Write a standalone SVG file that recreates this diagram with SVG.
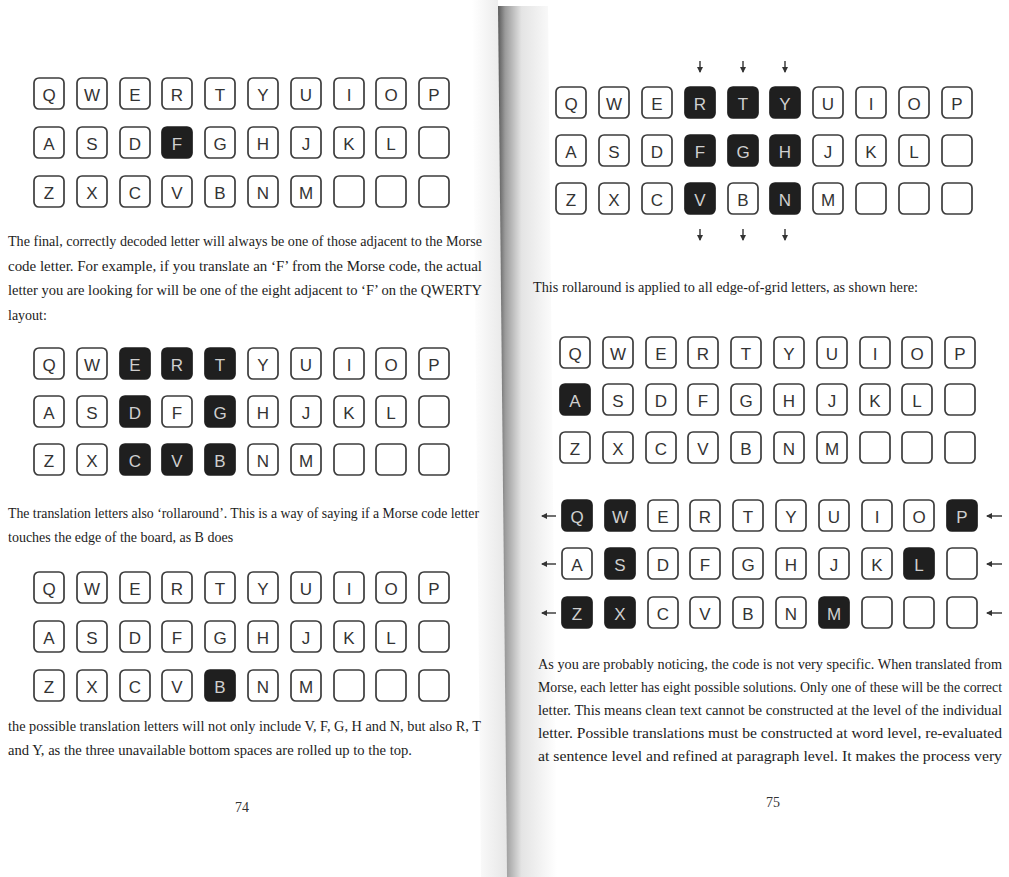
<svg xmlns="http://www.w3.org/2000/svg" width="1009" height="877" viewBox="0 0 1009 877">
<style>
.k rect{fill:#fff;stroke:#3c3c3c;stroke-width:1.7}
.k text{font-family:"Liberation Sans",Arial,sans-serif;font-size:17px;fill:#333;text-anchor:middle}
.d rect{fill:#1f1f1f;stroke:#1f1f1f}
.d text{fill:#cfcfcf}
.t{font-family:"Liberation Serif","Times New Roman",serif;font-size:14px;fill:#1c1c1c}
.pn{font-family:"Liberation Serif","Times New Roman",serif;font-size:14px;fill:#333;text-anchor:middle}
.ar{stroke:#333;stroke-width:1.4;fill:none}
</style>
<defs>
<marker id="ah" markerUnits="userSpaceOnUse" markerWidth="6" markerHeight="6" refX="5" refY="3" orient="auto"><path d="M0,0 L6,3 L0,6 z" fill="#333"/></marker>
<linearGradient id="gr" x1="0" y1="0" x2="1" y2="0"><stop offset="0" stop-color="#5a5a5a"/><stop offset="0.12" stop-color="#9a9a9a"/><stop offset="0.4" stop-color="#e4e4e4"/><stop offset="1" stop-color="#fff"/></linearGradient>
<linearGradient id="gl" x1="0" y1="0" x2="1" y2="0"><stop offset="0" stop-color="#fff"/><stop offset="1" stop-color="#e6e6e6"/></linearGradient>
</defs>
<rect width="1009" height="877" fill="#fff"/>
<g id="gutter">
<polygon points="472,0 498,0 507,877 481,877" fill="url(#gl)"/>
<polygon points="498,6 548,6 557,877 507,877" fill="url(#gr)"/>
</g>

<g id="grid-left-1">
<g id="L1-Q" class="k" transform="translate(34,78)"><rect width="30" height="31" rx="5"/><text x="15" y="23">Q</text></g>
<g id="L1-W" class="k" transform="translate(77,78)"><rect width="30" height="31" rx="5"/><text x="15" y="23">W</text></g>
<g id="L1-E" class="k" transform="translate(120,78)"><rect width="30" height="31" rx="5"/><text x="15" y="23">E</text></g>
<g id="L1-R" class="k" transform="translate(162,78)"><rect width="30" height="31" rx="5"/><text x="15" y="23">R</text></g>
<g id="L1-T" class="k" transform="translate(205,78)"><rect width="30" height="31" rx="5"/><text x="15" y="23">T</text></g>
<g id="L1-Y" class="k" transform="translate(248,78)"><rect width="30" height="31" rx="5"/><text x="15" y="23">Y</text></g>
<g id="L1-U" class="k" transform="translate(291,78)"><rect width="30" height="31" rx="5"/><text x="15" y="23">U</text></g>
<g id="L1-I" class="k" transform="translate(334,78)"><rect width="30" height="31" rx="5"/><text x="15" y="23">I</text></g>
<g id="L1-O" class="k" transform="translate(376,78)"><rect width="30" height="31" rx="5"/><text x="15" y="23">O</text></g>
<g id="L1-P" class="k" transform="translate(419,78)"><rect width="30" height="31" rx="5"/><text x="15" y="23">P</text></g>
<g id="L1-A" class="k" transform="translate(34,127)"><rect width="30" height="31" rx="5"/><text x="15" y="23">A</text></g>
<g id="L1-S" class="k" transform="translate(77,127)"><rect width="30" height="31" rx="5"/><text x="15" y="23">S</text></g>
<g id="L1-D" class="k" transform="translate(120,127)"><rect width="30" height="31" rx="5"/><text x="15" y="23">D</text></g>
<g id="L1-F" class="k d" transform="translate(162,127)"><rect width="30" height="31" rx="5"/><text x="15" y="23">F</text></g>
<g id="L1-G" class="k" transform="translate(205,127)"><rect width="30" height="31" rx="5"/><text x="15" y="23">G</text></g>
<g id="L1-H" class="k" transform="translate(248,127)"><rect width="30" height="31" rx="5"/><text x="15" y="23">H</text></g>
<g id="L1-J" class="k" transform="translate(291,127)"><rect width="30" height="31" rx="5"/><text x="15" y="23">J</text></g>
<g id="L1-K" class="k" transform="translate(334,127)"><rect width="30" height="31" rx="5"/><text x="15" y="23">K</text></g>
<g id="L1-L" class="k" transform="translate(376,127)"><rect width="30" height="31" rx="5"/><text x="15" y="23">L</text></g>
<g id="L1-b1" class="k" transform="translate(419,127)"><rect width="30" height="31" rx="5"/></g>
<g id="L1-Z" class="k" transform="translate(34,176)"><rect width="30" height="31" rx="5"/><text x="15" y="23">Z</text></g>
<g id="L1-X" class="k" transform="translate(77,176)"><rect width="30" height="31" rx="5"/><text x="15" y="23">X</text></g>
<g id="L1-C" class="k" transform="translate(120,176)"><rect width="30" height="31" rx="5"/><text x="15" y="23">C</text></g>
<g id="L1-V" class="k" transform="translate(162,176)"><rect width="30" height="31" rx="5"/><text x="15" y="23">V</text></g>
<g id="L1-B" class="k" transform="translate(205,176)"><rect width="30" height="31" rx="5"/><text x="15" y="23">B</text></g>
<g id="L1-N" class="k" transform="translate(248,176)"><rect width="30" height="31" rx="5"/><text x="15" y="23">N</text></g>
<g id="L1-M" class="k" transform="translate(291,176)"><rect width="30" height="31" rx="5"/><text x="15" y="23">M</text></g>
<g id="L1-b2" class="k" transform="translate(334,176)"><rect width="30" height="31" rx="5"/></g>
<g id="L1-b3" class="k" transform="translate(376,176)"><rect width="30" height="31" rx="5"/></g>
<g id="L1-b4" class="k" transform="translate(419,176)"><rect width="30" height="31" rx="5"/></g>
</g>

<g id="grid-left-2">
<g id="L2-Q" class="k" transform="translate(34,348)"><rect width="30" height="31" rx="5"/><text x="15" y="23">Q</text></g>
<g id="L2-W" class="k" transform="translate(77,348)"><rect width="30" height="31" rx="5"/><text x="15" y="23">W</text></g>
<g id="L2-E" class="k d" transform="translate(120,348)"><rect width="30" height="31" rx="5"/><text x="15" y="23">E</text></g>
<g id="L2-R" class="k d" transform="translate(162,348)"><rect width="30" height="31" rx="5"/><text x="15" y="23">R</text></g>
<g id="L2-T" class="k d" transform="translate(205,348)"><rect width="30" height="31" rx="5"/><text x="15" y="23">T</text></g>
<g id="L2-Y" class="k" transform="translate(248,348)"><rect width="30" height="31" rx="5"/><text x="15" y="23">Y</text></g>
<g id="L2-U" class="k" transform="translate(291,348)"><rect width="30" height="31" rx="5"/><text x="15" y="23">U</text></g>
<g id="L2-I" class="k" transform="translate(334,348)"><rect width="30" height="31" rx="5"/><text x="15" y="23">I</text></g>
<g id="L2-O" class="k" transform="translate(376,348)"><rect width="30" height="31" rx="5"/><text x="15" y="23">O</text></g>
<g id="L2-P" class="k" transform="translate(419,348)"><rect width="30" height="31" rx="5"/><text x="15" y="23">P</text></g>
<g id="L2-A" class="k" transform="translate(34,396)"><rect width="30" height="31" rx="5"/><text x="15" y="23">A</text></g>
<g id="L2-S" class="k" transform="translate(77,396)"><rect width="30" height="31" rx="5"/><text x="15" y="23">S</text></g>
<g id="L2-D" class="k d" transform="translate(120,396)"><rect width="30" height="31" rx="5"/><text x="15" y="23">D</text></g>
<g id="L2-F" class="k" transform="translate(162,396)"><rect width="30" height="31" rx="5"/><text x="15" y="23">F</text></g>
<g id="L2-G" class="k d" transform="translate(205,396)"><rect width="30" height="31" rx="5"/><text x="15" y="23">G</text></g>
<g id="L2-H" class="k" transform="translate(248,396)"><rect width="30" height="31" rx="5"/><text x="15" y="23">H</text></g>
<g id="L2-J" class="k" transform="translate(291,396)"><rect width="30" height="31" rx="5"/><text x="15" y="23">J</text></g>
<g id="L2-K" class="k" transform="translate(334,396)"><rect width="30" height="31" rx="5"/><text x="15" y="23">K</text></g>
<g id="L2-L" class="k" transform="translate(376,396)"><rect width="30" height="31" rx="5"/><text x="15" y="23">L</text></g>
<g id="L2-b1" class="k" transform="translate(419,396)"><rect width="30" height="31" rx="5"/></g>
<g id="L2-Z" class="k" transform="translate(34,444)"><rect width="30" height="31" rx="5"/><text x="15" y="23">Z</text></g>
<g id="L2-X" class="k" transform="translate(77,444)"><rect width="30" height="31" rx="5"/><text x="15" y="23">X</text></g>
<g id="L2-C" class="k d" transform="translate(120,444)"><rect width="30" height="31" rx="5"/><text x="15" y="23">C</text></g>
<g id="L2-V" class="k d" transform="translate(162,444)"><rect width="30" height="31" rx="5"/><text x="15" y="23">V</text></g>
<g id="L2-B" class="k d" transform="translate(205,444)"><rect width="30" height="31" rx="5"/><text x="15" y="23">B</text></g>
<g id="L2-N" class="k" transform="translate(248,444)"><rect width="30" height="31" rx="5"/><text x="15" y="23">N</text></g>
<g id="L2-M" class="k" transform="translate(291,444)"><rect width="30" height="31" rx="5"/><text x="15" y="23">M</text></g>
<g id="L2-b2" class="k" transform="translate(334,444)"><rect width="30" height="31" rx="5"/></g>
<g id="L2-b3" class="k" transform="translate(376,444)"><rect width="30" height="31" rx="5"/></g>
<g id="L2-b4" class="k" transform="translate(419,444)"><rect width="30" height="31" rx="5"/></g>
</g>

<g id="grid-left-3">
<g id="L3-Q" class="k" transform="translate(34,572)"><rect width="30" height="31" rx="5"/><text x="15" y="23">Q</text></g>
<g id="L3-W" class="k" transform="translate(77,572)"><rect width="30" height="31" rx="5"/><text x="15" y="23">W</text></g>
<g id="L3-E" class="k" transform="translate(120,572)"><rect width="30" height="31" rx="5"/><text x="15" y="23">E</text></g>
<g id="L3-R" class="k" transform="translate(162,572)"><rect width="30" height="31" rx="5"/><text x="15" y="23">R</text></g>
<g id="L3-T" class="k" transform="translate(205,572)"><rect width="30" height="31" rx="5"/><text x="15" y="23">T</text></g>
<g id="L3-Y" class="k" transform="translate(248,572)"><rect width="30" height="31" rx="5"/><text x="15" y="23">Y</text></g>
<g id="L3-U" class="k" transform="translate(291,572)"><rect width="30" height="31" rx="5"/><text x="15" y="23">U</text></g>
<g id="L3-I" class="k" transform="translate(334,572)"><rect width="30" height="31" rx="5"/><text x="15" y="23">I</text></g>
<g id="L3-O" class="k" transform="translate(376,572)"><rect width="30" height="31" rx="5"/><text x="15" y="23">O</text></g>
<g id="L3-P" class="k" transform="translate(419,572)"><rect width="30" height="31" rx="5"/><text x="15" y="23">P</text></g>
<g id="L3-A" class="k" transform="translate(34,621)"><rect width="30" height="31" rx="5"/><text x="15" y="23">A</text></g>
<g id="L3-S" class="k" transform="translate(77,621)"><rect width="30" height="31" rx="5"/><text x="15" y="23">S</text></g>
<g id="L3-D" class="k" transform="translate(120,621)"><rect width="30" height="31" rx="5"/><text x="15" y="23">D</text></g>
<g id="L3-F" class="k" transform="translate(162,621)"><rect width="30" height="31" rx="5"/><text x="15" y="23">F</text></g>
<g id="L3-G" class="k" transform="translate(205,621)"><rect width="30" height="31" rx="5"/><text x="15" y="23">G</text></g>
<g id="L3-H" class="k" transform="translate(248,621)"><rect width="30" height="31" rx="5"/><text x="15" y="23">H</text></g>
<g id="L3-J" class="k" transform="translate(291,621)"><rect width="30" height="31" rx="5"/><text x="15" y="23">J</text></g>
<g id="L3-K" class="k" transform="translate(334,621)"><rect width="30" height="31" rx="5"/><text x="15" y="23">K</text></g>
<g id="L3-L" class="k" transform="translate(376,621)"><rect width="30" height="31" rx="5"/><text x="15" y="23">L</text></g>
<g id="L3-b1" class="k" transform="translate(419,621)"><rect width="30" height="31" rx="5"/></g>
<g id="L3-Z" class="k" transform="translate(34,670)"><rect width="30" height="31" rx="5"/><text x="15" y="23">Z</text></g>
<g id="L3-X" class="k" transform="translate(77,670)"><rect width="30" height="31" rx="5"/><text x="15" y="23">X</text></g>
<g id="L3-C" class="k" transform="translate(120,670)"><rect width="30" height="31" rx="5"/><text x="15" y="23">C</text></g>
<g id="L3-V" class="k" transform="translate(162,670)"><rect width="30" height="31" rx="5"/><text x="15" y="23">V</text></g>
<g id="L3-B" class="k d" transform="translate(205,670)"><rect width="30" height="31" rx="5"/><text x="15" y="23">B</text></g>
<g id="L3-N" class="k" transform="translate(248,670)"><rect width="30" height="31" rx="5"/><text x="15" y="23">N</text></g>
<g id="L3-M" class="k" transform="translate(291,670)"><rect width="30" height="31" rx="5"/><text x="15" y="23">M</text></g>
<g id="L3-b2" class="k" transform="translate(334,670)"><rect width="30" height="31" rx="5"/></g>
<g id="L3-b3" class="k" transform="translate(376,670)"><rect width="30" height="31" rx="5"/></g>
<g id="L3-b4" class="k" transform="translate(419,670)"><rect width="30" height="31" rx="5"/></g>
</g>

<g id="grid-right-1">
<g id="R1-Q" class="k" transform="translate(556,87)"><rect width="30" height="31" rx="5"/><text x="15" y="23">Q</text></g>
<g id="R1-W" class="k" transform="translate(599,87)"><rect width="30" height="31" rx="5"/><text x="15" y="23">W</text></g>
<g id="R1-E" class="k" transform="translate(642,87)"><rect width="30" height="31" rx="5"/><text x="15" y="23">E</text></g>
<g id="R1-R" class="k d" transform="translate(685,87)"><rect width="30" height="31" rx="5"/><text x="15" y="23">R</text></g>
<g id="R1-T" class="k d" transform="translate(728,87)"><rect width="30" height="31" rx="5"/><text x="15" y="23">T</text></g>
<g id="R1-Y" class="k d" transform="translate(770,87)"><rect width="30" height="31" rx="5"/><text x="15" y="23">Y</text></g>
<g id="R1-U" class="k" transform="translate(813,87)"><rect width="30" height="31" rx="5"/><text x="15" y="23">U</text></g>
<g id="R1-I" class="k" transform="translate(856,87)"><rect width="30" height="31" rx="5"/><text x="15" y="23">I</text></g>
<g id="R1-O" class="k" transform="translate(899,87)"><rect width="30" height="31" rx="5"/><text x="15" y="23">O</text></g>
<g id="R1-P" class="k" transform="translate(942,87)"><rect width="30" height="31" rx="5"/><text x="15" y="23">P</text></g>
<g id="R1-A" class="k" transform="translate(556,135)"><rect width="30" height="31" rx="5"/><text x="15" y="23">A</text></g>
<g id="R1-S" class="k" transform="translate(599,135)"><rect width="30" height="31" rx="5"/><text x="15" y="23">S</text></g>
<g id="R1-D" class="k" transform="translate(642,135)"><rect width="30" height="31" rx="5"/><text x="15" y="23">D</text></g>
<g id="R1-F" class="k d" transform="translate(685,135)"><rect width="30" height="31" rx="5"/><text x="15" y="23">F</text></g>
<g id="R1-G" class="k d" transform="translate(728,135)"><rect width="30" height="31" rx="5"/><text x="15" y="23">G</text></g>
<g id="R1-H" class="k d" transform="translate(770,135)"><rect width="30" height="31" rx="5"/><text x="15" y="23">H</text></g>
<g id="R1-J" class="k" transform="translate(813,135)"><rect width="30" height="31" rx="5"/><text x="15" y="23">J</text></g>
<g id="R1-K" class="k" transform="translate(856,135)"><rect width="30" height="31" rx="5"/><text x="15" y="23">K</text></g>
<g id="R1-L" class="k" transform="translate(899,135)"><rect width="30" height="31" rx="5"/><text x="15" y="23">L</text></g>
<g id="R1-b1" class="k" transform="translate(942,135)"><rect width="30" height="31" rx="5"/></g>
<g id="R1-Z" class="k" transform="translate(556,183)"><rect width="30" height="31" rx="5"/><text x="15" y="23">Z</text></g>
<g id="R1-X" class="k" transform="translate(599,183)"><rect width="30" height="31" rx="5"/><text x="15" y="23">X</text></g>
<g id="R1-C" class="k" transform="translate(642,183)"><rect width="30" height="31" rx="5"/><text x="15" y="23">C</text></g>
<g id="R1-V" class="k d" transform="translate(685,183)"><rect width="30" height="31" rx="5"/><text x="15" y="23">V</text></g>
<g id="R1-B" class="k" transform="translate(728,183)"><rect width="30" height="31" rx="5"/><text x="15" y="23">B</text></g>
<g id="R1-N" class="k d" transform="translate(770,183)"><rect width="30" height="31" rx="5"/><text x="15" y="23">N</text></g>
<g id="R1-M" class="k" transform="translate(813,183)"><rect width="30" height="31" rx="5"/><text x="15" y="23">M</text></g>
<g id="R1-b2" class="k" transform="translate(856,183)"><rect width="30" height="31" rx="5"/></g>
<g id="R1-b3" class="k" transform="translate(899,183)"><rect width="30" height="31" rx="5"/></g>
<g id="R1-b4" class="k" transform="translate(942,183)"><rect width="30" height="31" rx="5"/></g>
</g>

<g id="grid-right-2">
<g id="R2-Q" class="k" transform="translate(560,337)"><rect width="30" height="31" rx="5"/><text x="15" y="23">Q</text></g>
<g id="R2-W" class="k" transform="translate(603,337)"><rect width="30" height="31" rx="5"/><text x="15" y="23">W</text></g>
<g id="R2-E" class="k" transform="translate(646,337)"><rect width="30" height="31" rx="5"/><text x="15" y="23">E</text></g>
<g id="R2-R" class="k" transform="translate(688,337)"><rect width="30" height="31" rx="5"/><text x="15" y="23">R</text></g>
<g id="R2-T" class="k" transform="translate(731,337)"><rect width="30" height="31" rx="5"/><text x="15" y="23">T</text></g>
<g id="R2-Y" class="k" transform="translate(774,337)"><rect width="30" height="31" rx="5"/><text x="15" y="23">Y</text></g>
<g id="R2-U" class="k" transform="translate(817,337)"><rect width="30" height="31" rx="5"/><text x="15" y="23">U</text></g>
<g id="R2-I" class="k" transform="translate(860,337)"><rect width="30" height="31" rx="5"/><text x="15" y="23">I</text></g>
<g id="R2-O" class="k" transform="translate(902,337)"><rect width="30" height="31" rx="5"/><text x="15" y="23">O</text></g>
<g id="R2-P" class="k" transform="translate(945,337)"><rect width="30" height="31" rx="5"/><text x="15" y="23">P</text></g>
<g id="R2-A" class="k d" transform="translate(560,384)"><rect width="30" height="31" rx="5"/><text x="15" y="23">A</text></g>
<g id="R2-S" class="k" transform="translate(603,384)"><rect width="30" height="31" rx="5"/><text x="15" y="23">S</text></g>
<g id="R2-D" class="k" transform="translate(646,384)"><rect width="30" height="31" rx="5"/><text x="15" y="23">D</text></g>
<g id="R2-F" class="k" transform="translate(688,384)"><rect width="30" height="31" rx="5"/><text x="15" y="23">F</text></g>
<g id="R2-G" class="k" transform="translate(731,384)"><rect width="30" height="31" rx="5"/><text x="15" y="23">G</text></g>
<g id="R2-H" class="k" transform="translate(774,384)"><rect width="30" height="31" rx="5"/><text x="15" y="23">H</text></g>
<g id="R2-J" class="k" transform="translate(817,384)"><rect width="30" height="31" rx="5"/><text x="15" y="23">J</text></g>
<g id="R2-K" class="k" transform="translate(860,384)"><rect width="30" height="31" rx="5"/><text x="15" y="23">K</text></g>
<g id="R2-L" class="k" transform="translate(902,384)"><rect width="30" height="31" rx="5"/><text x="15" y="23">L</text></g>
<g id="R2-b1" class="k" transform="translate(945,384)"><rect width="30" height="31" rx="5"/></g>
<g id="R2-Z" class="k" transform="translate(560,432)"><rect width="30" height="31" rx="5"/><text x="15" y="23">Z</text></g>
<g id="R2-X" class="k" transform="translate(603,432)"><rect width="30" height="31" rx="5"/><text x="15" y="23">X</text></g>
<g id="R2-C" class="k" transform="translate(646,432)"><rect width="30" height="31" rx="5"/><text x="15" y="23">C</text></g>
<g id="R2-V" class="k" transform="translate(688,432)"><rect width="30" height="31" rx="5"/><text x="15" y="23">V</text></g>
<g id="R2-B" class="k" transform="translate(731,432)"><rect width="30" height="31" rx="5"/><text x="15" y="23">B</text></g>
<g id="R2-N" class="k" transform="translate(774,432)"><rect width="30" height="31" rx="5"/><text x="15" y="23">N</text></g>
<g id="R2-M" class="k" transform="translate(817,432)"><rect width="30" height="31" rx="5"/><text x="15" y="23">M</text></g>
<g id="R2-b2" class="k" transform="translate(860,432)"><rect width="30" height="31" rx="5"/></g>
<g id="R2-b3" class="k" transform="translate(902,432)"><rect width="30" height="31" rx="5"/></g>
<g id="R2-b4" class="k" transform="translate(945,432)"><rect width="30" height="31" rx="5"/></g>
</g>

<g id="grid-right-3">
<g id="R3-Q" class="k d" transform="translate(562,500)"><rect width="30" height="31" rx="5"/><text x="15" y="23">Q</text></g>
<g id="R3-W" class="k d" transform="translate(605,500)"><rect width="30" height="31" rx="5"/><text x="15" y="23">W</text></g>
<g id="R3-E" class="k" transform="translate(648,500)"><rect width="30" height="31" rx="5"/><text x="15" y="23">E</text></g>
<g id="R3-R" class="k" transform="translate(690,500)"><rect width="30" height="31" rx="5"/><text x="15" y="23">R</text></g>
<g id="R3-T" class="k" transform="translate(733,500)"><rect width="30" height="31" rx="5"/><text x="15" y="23">T</text></g>
<g id="R3-Y" class="k" transform="translate(776,500)"><rect width="30" height="31" rx="5"/><text x="15" y="23">Y</text></g>
<g id="R3-U" class="k" transform="translate(819,500)"><rect width="30" height="31" rx="5"/><text x="15" y="23">U</text></g>
<g id="R3-I" class="k" transform="translate(862,500)"><rect width="30" height="31" rx="5"/><text x="15" y="23">I</text></g>
<g id="R3-O" class="k" transform="translate(904,500)"><rect width="30" height="31" rx="5"/><text x="15" y="23">O</text></g>
<g id="R3-P" class="k d" transform="translate(947,500)"><rect width="30" height="31" rx="5"/><text x="15" y="23">P</text></g>
<g id="R3-A" class="k" transform="translate(562,548)"><rect width="30" height="31" rx="5"/><text x="15" y="23">A</text></g>
<g id="R3-S" class="k d" transform="translate(605,548)"><rect width="30" height="31" rx="5"/><text x="15" y="23">S</text></g>
<g id="R3-D" class="k" transform="translate(648,548)"><rect width="30" height="31" rx="5"/><text x="15" y="23">D</text></g>
<g id="R3-F" class="k" transform="translate(690,548)"><rect width="30" height="31" rx="5"/><text x="15" y="23">F</text></g>
<g id="R3-G" class="k" transform="translate(733,548)"><rect width="30" height="31" rx="5"/><text x="15" y="23">G</text></g>
<g id="R3-H" class="k" transform="translate(776,548)"><rect width="30" height="31" rx="5"/><text x="15" y="23">H</text></g>
<g id="R3-J" class="k" transform="translate(819,548)"><rect width="30" height="31" rx="5"/><text x="15" y="23">J</text></g>
<g id="R3-K" class="k" transform="translate(862,548)"><rect width="30" height="31" rx="5"/><text x="15" y="23">K</text></g>
<g id="R3-L" class="k d" transform="translate(904,548)"><rect width="30" height="31" rx="5"/><text x="15" y="23">L</text></g>
<g id="R3-b1" class="k" transform="translate(947,548)"><rect width="30" height="31" rx="5"/></g>
<g id="R3-Z" class="k d" transform="translate(562,597)"><rect width="30" height="31" rx="5"/><text x="15" y="23">Z</text></g>
<g id="R3-X" class="k d" transform="translate(605,597)"><rect width="30" height="31" rx="5"/><text x="15" y="23">X</text></g>
<g id="R3-C" class="k" transform="translate(648,597)"><rect width="30" height="31" rx="5"/><text x="15" y="23">C</text></g>
<g id="R3-V" class="k" transform="translate(690,597)"><rect width="30" height="31" rx="5"/><text x="15" y="23">V</text></g>
<g id="R3-B" class="k" transform="translate(733,597)"><rect width="30" height="31" rx="5"/><text x="15" y="23">B</text></g>
<g id="R3-N" class="k" transform="translate(776,597)"><rect width="30" height="31" rx="5"/><text x="15" y="23">N</text></g>
<g id="R3-M" class="k d" transform="translate(819,597)"><rect width="30" height="31" rx="5"/><text x="15" y="23">M</text></g>
<g id="R3-b2" class="k" transform="translate(862,597)"><rect width="30" height="31" rx="5"/></g>
<g id="R3-b3" class="k" transform="translate(904,597)"><rect width="30" height="31" rx="5"/></g>
<g id="R3-b4" class="k" transform="translate(947,597)"><rect width="30" height="31" rx="5"/></g>
</g>

<g id="connectors">
<line class="ar" x1="700" y1="61" x2="700" y2="72" marker-end="url(#ah)"/>
<line class="ar" x1="743" y1="61" x2="743" y2="72" marker-end="url(#ah)"/>
<line class="ar" x1="785" y1="61" x2="785" y2="72" marker-end="url(#ah)"/>
<line class="ar" x1="700" y1="229" x2="700" y2="240" marker-end="url(#ah)"/>
<line class="ar" x1="743" y1="229" x2="743" y2="240" marker-end="url(#ah)"/>
<line class="ar" x1="785" y1="229" x2="785" y2="240" marker-end="url(#ah)"/>
<line class="ar" x1="556" y1="516" x2="542" y2="516" marker-end="url(#ah)"/>
<line class="ar" x1="556" y1="564" x2="542" y2="564" marker-end="url(#ah)"/>
<line class="ar" x1="556" y1="613" x2="542" y2="613" marker-end="url(#ah)"/>
<line class="ar" x1="1002" y1="516" x2="987" y2="516" marker-end="url(#ah)"/>
<line class="ar" x1="1002" y1="564" x2="987" y2="564" marker-end="url(#ah)"/>
<line class="ar" x1="1002" y1="613" x2="987" y2="613" marker-end="url(#ah)"/>
</g>

<g id="text-left">
<text class="t" x="8" y="246" textLength="474" lengthAdjust="spacingAndGlyphs">The final, correctly decoded letter will always be one of those adjacent to the Morse</text>
<text class="t" x="8" y="270.5" textLength="474" lengthAdjust="spacingAndGlyphs">code letter. For example, if you translate an ‘F’ from the Morse code, the actual</text>
<text class="t" x="8" y="295" textLength="474" lengthAdjust="spacingAndGlyphs">letter you are looking for will be one of the eight adjacent to ‘F’ on the QWERTY</text>
<text class="t" x="8" y="319.5">layout:</text>
<text class="t" x="8" y="518" textLength="471" lengthAdjust="spacingAndGlyphs">The translation letters also ‘rollaround’. This is a way of saying if a Morse code letter</text>
<text class="t" x="8" y="542">touches the edge of the board, as B does</text>
<text class="t" x="8" y="731" textLength="473" lengthAdjust="spacingAndGlyphs">the possible translation letters will not only include V, F, G, H and N, but also R, T</text>
<text class="t" x="8" y="755" textLength="404" lengthAdjust="spacingAndGlyphs">and Y,  as the three unavailable bottom spaces are rolled up to the top.</text>
<text class="pn" x="242" y="812">74</text>
</g>

<g id="text-right">
<text class="t" x="533" y="292" textLength="385" lengthAdjust="spacingAndGlyphs">This rollaround is applied to all edge-of-grid letters, as shown here:</text>
<text class="t" x="538" y="669" textLength="464" lengthAdjust="spacingAndGlyphs">As you are probably noticing, the code is not very specific. When translated from</text>
<text class="t" x="538" y="692" textLength="464" lengthAdjust="spacingAndGlyphs">Morse, each letter has eight possible solutions. Only one of these will be the correct</text>
<text class="t" x="538" y="715" textLength="464" lengthAdjust="spacingAndGlyphs">letter. This means clean text cannot be constructed at the level of the individual</text>
<text class="t" x="538" y="738" textLength="464" lengthAdjust="spacingAndGlyphs">letter. Possible translations must be constructed at word level, re-evaluated</text>
<text class="t" x="538" y="761" textLength="464" lengthAdjust="spacingAndGlyphs">at sentence level and refined at paragraph level. It makes the process very</text>
<text class="pn" x="773" y="807">75</text>
</g>
</svg>
